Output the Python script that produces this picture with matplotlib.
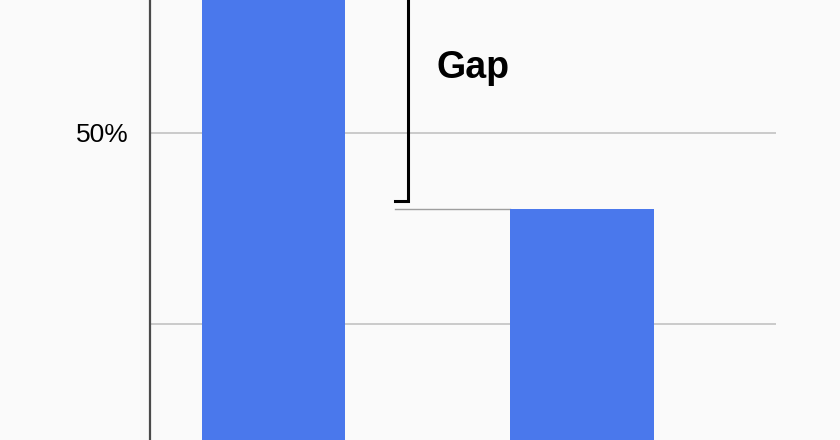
import matplotlib.pyplot as plt

categories = ['A', 'B']
values = [75, 40]          # percent; first bar runs past the top of the crop
gap_label = 'Gap'
tick_values = [25, 50]
tick_labels = ['', '50%']

plt.rcParams['font.family'] = ['Liberation Sans', 'DejaVu Sans']

bg = '#fafafa'
bar_color = '#4a78ec'

fig = plt.figure(figsize=(8.4, 4.4), dpi=100, facecolor=bg)
ax = fig.add_axes([150 / 840, 0, 626 / 840, 1], facecolor=bg)

x = [0, 1]
width = 0.467
ax.bar(x, values, width=width, color=bar_color, zorder=3)

ax.set_xlim(-0.401, 1.631)
ax.set_ylim(9.78, 67.37)

ax.set_yticks(tick_values)
ax.set_yticklabels(tick_labels, fontsize=19)
ax.tick_params(axis='y', length=0, pad=15)
ax.set_xticks([])
ax.grid(axis='y', color='#bdbdbd', linewidth=1.1, zorder=1)

for s in ['top', 'right', 'bottom']:
    ax.spines[s].set_visible(False)
ax.spines['left'].set_color('#4a4a4a')
ax.spines['left'].set_linewidth(1.6)

# reference line at the second bar's level
ax.plot([0.394, 1 - width / 2], [values[1], values[1]], color='#9e9e9e',
        linewidth=1.0, zorder=2)

# bracket marking the gap
bx = 0.437
b_bot = values[1] + 1.0
ax.plot([0.394, bx, bx], [b_bot, b_bot, values[0]], color='black',
        linewidth=2.2, zorder=4, solid_joinstyle='miter', clip_on=True)

ax.text(0.530, 58.5, gap_label, fontsize=27, fontweight='bold',
        ha='left', va='center', color='black')

fig.savefig('out.png', dpi=100, facecolor=bg)
